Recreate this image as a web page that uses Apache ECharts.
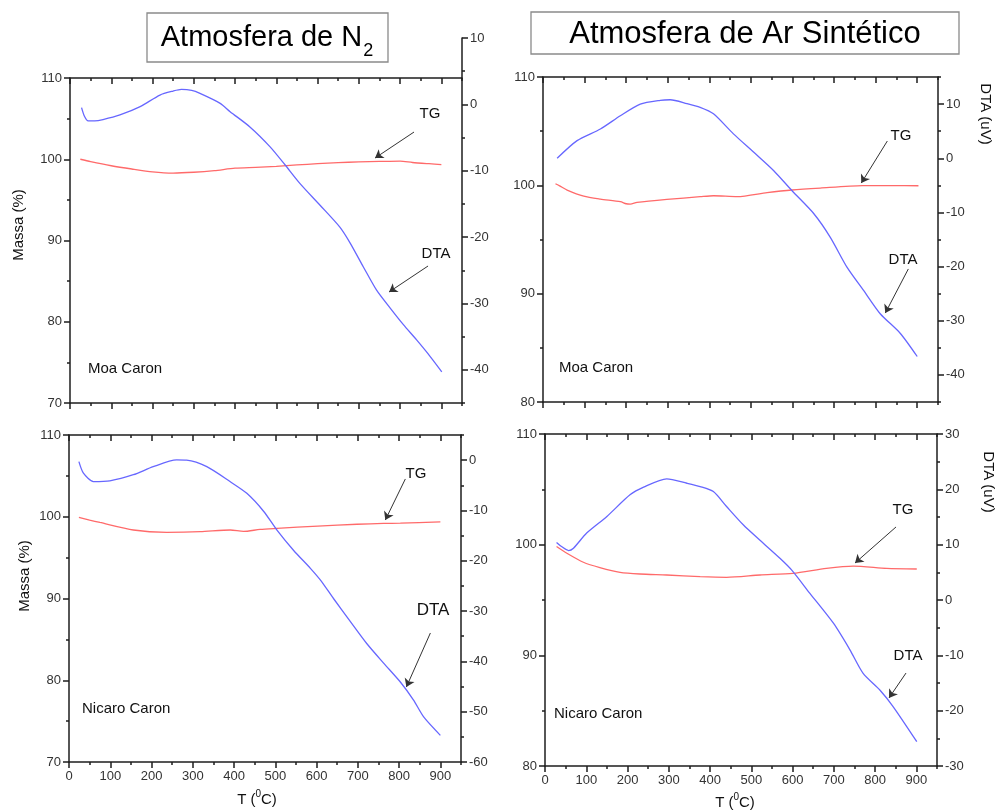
<!DOCTYPE html>
<html>
<head>
<meta charset="utf-8">
<script src="https://cdn.jsdelivr.net/npm/echarts@6/dist/echarts.min.js"></script>
<style>html,body{margin:0;padding:0;background:#fff;}#c{width:997px;height:810px;}</style>
</head>
<body>
<div id="c"></div>
<script>
// ---------- DATA ----------
// Atmosfera de N2 - Moa Caron
const n2MoaTgT   = [25, 50, 100, 150, 200, 250, 300, 350, 400, 450, 500, 550, 600, 650, 700, 750, 800, 830, 870, 900];
const n2MoaTg    = [100.0, 99.7, 99.2, 98.8, 98.45, 98.3, 98.4, 98.6, 98.9, 99.0, 99.12, 99.3, 99.45, 99.58, 99.68, 99.73, 99.77, 99.6, 99.45, 99.35];
const n2MoaDtaT  = [28, 35, 44, 60, 80, 121, 170, 218, 250, 270, 295, 315, 364, 388, 436, 485, 521, 557, 606, 654, 679, 711, 743, 776, 808, 840, 873, 901];
const n2MoaDta   = [-0.5, -1.8, -2.5, -2.5, -2.3, -1.6, -0.35, 1.4, 2.0, 2.25, 2.1, 1.65, 0.15, -1.1, -3.4, -6.4, -9.1, -11.9, -15.2, -18.5, -20.9, -24.5, -28.0, -30.7, -33.2, -35.5, -38.0, -40.3];
// Atmosfera de N2 - Nicaro Caron
const n2NicTgT   = [24, 50, 75, 156, 237, 318, 391, 423, 463, 504, 603, 698, 762, 803, 900];
const n2NicTg    = [99.93, 99.6, 99.3, 98.38, 98.1, 98.17, 98.38, 98.2, 98.45, 98.58, 98.86, 99.08, 99.18, 99.22, 99.37];
const n2NicDtaT  = [24, 35, 59, 99, 156, 204, 261, 285, 334, 391, 431, 472, 504, 544, 585, 609, 641, 682, 722, 763, 803, 835, 860, 900];
const n2NicDta   = [-0.3, -2.6, -4.25, -4.1, -2.9, -1.3, 0.05, 0.0, -1.3, -4.3, -6.6, -10.2, -13.9, -17.9, -21.5, -23.8, -27.5, -32.1, -36.5, -40.4, -44.1, -47.7, -51.1, -54.7];
// Atmosfera de Ar Sintetico - Moa Caron
const arMoaTgT   = [30, 40, 58, 98, 138, 186, 200, 210, 226, 298, 378, 410, 467, 539, 599, 667, 768, 840, 903];
const arMoaTg    = [100.15, 99.95, 99.56, 99.0, 98.73, 98.49, 98.3, 98.27, 98.42, 98.70, 98.95, 99.04, 98.95, 99.32, 99.57, 99.75, 99.97, 99.98, 99.96];
const arMoaDtaT  = [34, 82, 138, 186, 234, 282, 306, 346, 378, 410, 458, 507, 555, 599, 651, 691, 731, 771, 811, 859, 900];
const arMoaDta   = [0.0, 3.25, 5.4, 7.85, 10.0, 10.7, 10.8, 10.1, 9.4, 8.2, 4.5, 1.1, -2.3, -6.0, -10.2, -14.6, -20.1, -24.4, -28.7, -32.3, -36.6];
// Atmosfera de Ar Sintetico - Nicaro Caron
const arNicTgT   = [28, 53, 93, 133, 182, 230, 295, 376, 440, 521, 601, 682, 747, 828, 901];
const arNicTg    = [99.83, 99.22, 98.41, 97.93, 97.5, 97.35, 97.26, 97.11, 97.05, 97.26, 97.41, 97.86, 98.07, 97.86, 97.8];
const arNicDtaT  = [28, 40, 57, 69, 101, 150, 206, 239, 295, 344, 376, 408, 440, 481, 521, 570, 598, 642, 699, 739, 771, 812, 844, 901];
const arNicDta   = [10.4, 9.66, 8.94, 9.36, 12.1, 15.1, 19.0, 20.4, 21.9, 21.1, 20.5, 19.6, 16.9, 13.55, 10.8, 7.5, 5.4, 1.2, -4.2, -9.0, -13.25, -16.3, -19.3, -25.6];

// tick labels
const xTicks      = [0, 100, 200, 300, 400, 500, 600, 700, 800, 900];
const xMinorTicks = [50, 150, 250, 350, 450, 550, 650, 750, 850, 950];
const massaTicksN2 = [70, 80, 90, 100, 110];
const massaMinorN2 = [75, 85, 95, 105];
const massaTicksAr = [80, 90, 100, 110];
const massaMinorAr = [85, 95, 105];
const dtaTicksN2Moa = [-40, -30, -20, -10, 0, 10];
const dtaMinorN2Moa = [-45, -35, -25, -15, -5, 5];
const dtaTicksN2Nic = [-60, -50, -40, -30, -20, -10, 0];
const dtaMinorN2Nic = [-55, -45, -35, -25, -15, -5, 5];
const dtaTicksArMoa = [-40, -30, -20, -10, 0, 10];
const dtaMinorArMoa = [-45, -35, -25, -15, -5, 5, 15];
const dtaTicksArNic = [-30, -20, -10, 0, 10, 20, 30];
const dtaMinorArNic = [-25, -15, -5, 5, 15, 25];

// annotation arrows (data coords: [Tstart, mStart, Tend, mEnd])
const arrowsN2Moa = [[833.7, 103.35, 739.2, 100.15], [867.7, 86.86, 773.2, 83.66]];
const arrowsN2Nic = [[815.1, 104.62, 766.6, 99.6], [875.8, 85.78, 817.6, 79.17]];
const arrowsArMoa = [[828.1, 104.09, 765.5, 100.21], [878.6, 92.28, 823.3, 88.21]];
const arrowsArNic = [[850.7, 101.6, 751.3, 98.34], [874.9, 88.40, 833.7, 86.15]];

// ---------- STYLE ----------
const AX = '#1e1e1e';
const LBL = '#333';
const FONT = '"Liberation Sans", Arial, Helvetica, sans-serif';
const TG_COLOR = '#ff6a6a';
const DTA_COLOR = '#6767ff';

const zip = (a, b) => a.map((v, i) => [v, b[i]]);

const grids = [
  {left: 70, right: 535, top: 78, bottom: 407},   // 0 TL
  {left: 70, right: 535, top: 38, bottom: 407},   // 1 TL right axis (taller)
  {left: 69, right: 536, top: 435, bottom: 48},   // 2 BL
  {left: 543, right: 59, top: 77, bottom: 408},   // 3 TR
  {left: 545, right: 60, top: 434, bottom: 44}    // 4 BR
].map(g => Object.assign({containLabel: false, outerBoundsMode: 'none'}, g));

const xAxis = [];
const yAxis = [];

function axisBase(extra) {
  return Object.assign({
    type: 'value',
    splitLine: {show: false},
    axisPointer: {show: false}
  }, extra);
}

function addX(gi, showLabels, frame) {
  const main = xAxis.length;
  xAxis.push(axisBase({
    gridIndex: gi, min: 0, max: 950, position: 'bottom',
    axisLine: {show: frame, onZero: false, lineStyle: {color: AX, width: 1.5}},
    axisTick: {show: frame, customValues: xTicks, length: 6, lineStyle: {color: AX, width: 1.5}},
    axisLabel: {show: showLabels, customValues: xTicks, margin: 8, color: LBL, fontSize: 13, fontFamily: FONT}
  }));
  if (frame) {
    xAxis.push(axisBase({
      gridIndex: gi, min: 0, max: 950, position: 'bottom',
      axisLine: {show: false, onZero: false},
      axisTick: {show: true, customValues: xMinorTicks, length: 3, lineStyle: {color: AX, width: 1.5}},
      axisLabel: {show: false}
    }));
    xAxis.push(axisBase({
      gridIndex: gi, min: 0, max: 950, position: 'top',
      axisLine: {show: true, onZero: false, lineStyle: {color: AX, width: 1.5}},
      axisTick: {show: true, inside: true, customValues: xTicks, length: 6, lineStyle: {color: AX, width: 1.5}},
      axisLabel: {show: false}
    }));
    xAxis.push(axisBase({
      gridIndex: gi, min: 0, max: 950, position: 'top',
      axisLine: {show: false, onZero: false},
      axisTick: {show: true, inside: true, customValues: xMinorTicks, length: 3, lineStyle: {color: AX, width: 1.5}},
      axisLabel: {show: false}
    }));
  }
  return main;
}

function addY(gi, pos, min, max, major, minor) {
  const main = yAxis.length;
  yAxis.push(axisBase({
    gridIndex: gi, min: min, max: max, position: pos,
    axisLine: {show: true, onZero: false, lineStyle: {color: AX, width: 1.5}},
    axisTick: {show: true, customValues: major, length: 6, lineStyle: {color: AX, width: 1.5}},
    axisLabel: {show: true, customValues: major, margin: 8, color: LBL, fontSize: 13, fontFamily: FONT}
  }));
  yAxis.push(axisBase({
    gridIndex: gi, min: min, max: max, position: pos,
    axisLine: {show: false, onZero: false},
    axisTick: {show: true, customValues: minor, length: 3, lineStyle: {color: AX, width: 1.5}},
    axisLabel: {show: false}
  }));
  return main;
}

// grid 0 TL
const xTL = addX(0, false, true);
const yTLm = addY(0, 'left', 70, 110, massaTicksN2, massaMinorN2);
// grid 1 TL right
const xTLr = addX(1, false, false);
const yTLd = addY(1, 'right', -45, 10, dtaTicksN2Moa, dtaMinorN2Moa);
// grid 2 BL
const xBL = addX(2, true, true);
const yBLm = addY(2, 'left', 70, 110, massaTicksN2, massaMinorN2);
const yBLd = addY(2, 'right', -60, 5, dtaTicksN2Nic, dtaMinorN2Nic);
// grid 3 TR
const xTR = addX(3, false, true);
const yTRm = addY(3, 'left', 80, 110, massaTicksAr, massaMinorAr);
const yTRd = addY(3, 'right', -45, 15, dtaTicksArMoa, dtaMinorArMoa);
// grid 4 BR
const xBR = addX(4, true, true);
const yBRm = addY(4, 'left', 80, 110, massaTicksAr, massaMinorAr);
const yBRd = addY(4, 'right', -30, 30, dtaTicksArNic, dtaMinorArNic);

function arrowLines(arr) {
  return {
    silent: true,
    symbol: ['none', 'arrow'],
    symbolSize: 8,
    lineStyle: {color: '#333', width: 1, type: 'solid'},
    label: {show: false},
    emphasis: {disabled: true},
    data: arr.map(a => [{coord: [a[0], a[1]]}, {coord: [a[2], a[3]]}])
  };
}

function line(name, xi, yi, data, color, arrows) {
  const s = {
    type: 'line', name: name, xAxisIndex: xi, yAxisIndex: yi,
    data: data, showSymbol: false, smooth: 0.25, silent: true,
    lineStyle: {color: color, width: 1.3}, itemStyle: {color: color},
    clip: false
  };
  if (arrows) s.markLine = arrowLines(arrows);
  return s;
}

const series = [
  line('TG', xTL, yTLm, zip(n2MoaTgT, n2MoaTg), TG_COLOR, arrowsN2Moa),
  line('DTA', xTLr, yTLd, zip(n2MoaDtaT, n2MoaDta), DTA_COLOR),
  line('TG', xBL, yBLm, zip(n2NicTgT, n2NicTg), TG_COLOR, arrowsN2Nic),
  line('DTA', xBL, yBLd, zip(n2NicDtaT, n2NicDta), DTA_COLOR),
  line('TG', xTR, yTRm, zip(arMoaTgT, arMoaTg), TG_COLOR, arrowsArMoa),
  line('DTA', xTR, yTRd, zip(arMoaDtaT, arMoaDta), DTA_COLOR),
  line('TG', xBR, yBRm, zip(arNicTgT, arNicTg), TG_COLOR, arrowsArNic),
  line('DTA', xBR, yBRd, zip(arNicDtaT, arNicDta), DTA_COLOR)
];

function txt(text, x, y, size, extra) {
  const el = {
    type: 'text', x: x, y: y, silent: true,
    style: {text: text, fontSize: size, fontFamily: FONT, fill: '#111', align: 'center', verticalAlign: 'middle'}
  };
  if (extra && extra.rotation !== undefined) el.rotation = extra.rotation;
  if (extra && extra.align) el.style.align = extra.align;
  if (extra && extra.fill) el.style.fill = extra.fill;
  return el;
}

function tLabel(x, y) {
  return {type: 'text', x: x, y: y, silent: true, style: {
    text: '{a|T (}{s|0}{a|C)}', align: 'center', verticalAlign: 'middle',
    rich: {a: {fontSize: 15, fontFamily: FONT, fill: '#111', lineHeight: 18, verticalAlign: 'bottom'},
           s: {fontSize: 10, fontFamily: FONT, fill: '#111', lineHeight: 18, verticalAlign: 'top', padding: [0, 0, 6, 0]}}
  }};
}

const graphic = [
  // title boxes
  {type: 'rect', shape: {x: 147, y: 13, width: 241, height: 49}, style: {fill: 'none', stroke: '#8a8a8a', lineWidth: 1.3}, silent: true},
  {type: 'rect', shape: {x: 531, y: 12, width: 428, height: 42}, style: {fill: 'none', stroke: '#8a8a8a', lineWidth: 1.3}, silent: true},
  {type: 'text', x: 267, y: 38, silent: true, style: {
    text: '{a|Atmosfera de N}{b|2}', align: 'center', verticalAlign: 'middle', fill: '#000',
    rich: {a: {fontSize: 29, fontFamily: FONT, fill: '#000', lineHeight: 30, verticalAlign: 'top'},
           b: {fontSize: 18, fontFamily: FONT, fill: '#000', lineHeight: 20, verticalAlign: 'top', padding: [19, 0, 0, 1]}}
  }},
  txt('Atmosfera de Ar Sintético', 745, 34, 31, {fill: '#000'}),
  // axis titles
  txt('Massa (%)', 19, 225, 15, {rotation: Math.PI / 2}),
  txt('Massa (%)', 25, 576, 15, {rotation: Math.PI / 2}),
  txt('DTA (uV)', 985, 114, 15, {rotation: -Math.PI / 2}),
  txt('DTA (uV)', 988, 482, 15, {rotation: -Math.PI / 2}),
  tLabel(257, 798),
  tLabel(735, 801),
  // curve labels
  txt('TG', 430, 114, 15),
  txt('DTA', 436, 254, 15),
  txt('TG', 416, 474, 15),
  txt('DTA', 433, 610, 17),
  txt('TG', 901, 136, 15),
  txt('DTA', 903, 260, 15),
  txt('TG', 903, 510, 15),
  txt('DTA', 908, 656, 15),
  // sample names
  txt('Moa Caron', 88, 369, 15, {align: 'left'}),
  txt('Moa Caron', 559, 368, 15, {align: 'left'}),
  txt('Nicaro Caron', 82, 709, 15, {align: 'left'}),
  txt('Nicaro Caron', 554, 714, 15, {align: 'left'})
];

const chart = echarts.init(document.getElementById('c'), null, {renderer: 'canvas'});
chart.setOption({
  animation: false,
  backgroundColor: '#fff',
  grid: grids,
  xAxis: xAxis,
  yAxis: yAxis,
  series: series,
  graphic: graphic
});
</script>
</body>
</html>
